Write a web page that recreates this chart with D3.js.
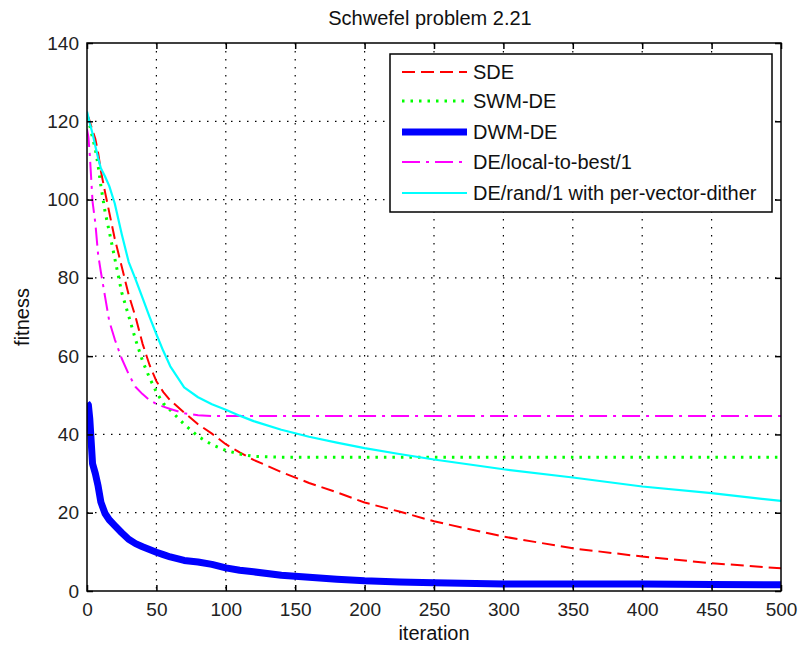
<!DOCTYPE html>
<html>
<head>
<meta charset="utf-8">
<script src="https://cdn.jsdelivr.net/npm/d3@7"></script>
<style>
  html, body { margin: 0; padding: 0; background: #fff; }
  svg { display: block; font-family: "Liberation Sans", Arial, Helvetica, sans-serif; }
</style>
</head>
<body>
<svg id="chart" width="802" height="650"></svg>
<script>
// Iteration grid shared by every series
const iterations = [0, 1, 2, 4, 6, 8, 10, 13, 16, 20, 25, 30, 35, 40, 45, 50, 55, 60, 70, 80, 90,
                    100, 110, 120, 140, 160, 180, 200, 225, 250, 300, 350, 400, 450, 500];

// Best fitness per iteration for each algorithm
const sde = [121.5, 121, 120, 117.6, 115.5, 112, 107.3, 101.9, 96.8, 90, 82.9, 75.7, 70, 63.2, 57.8, 53.6, 50.8, 48.7, 45.6, 42.6, 40.2,
             37.5, 35.4, 33.5, 30.4, 27.6, 25.2, 22.6, 20.3, 17.8, 13.9, 10.9, 8.8, 7.1, 5.8];
const swmde = [121, 120, 118.9, 115.8, 112.9, 108.7, 103.5, 96.9, 91.9, 85, 76.3, 70.3, 64.2, 58.8, 54.5, 50.8, 47.9, 46.2, 42.6, 39.5, 37.4,
               35.9, 35.0, 34.4, 34.2, 34.2, 34.2, 34.2, 34.2, 34.2, 34.2, 34.2, 34.2, 34.2, 34.2];
const dwmde = [48, 47.5, 44, 32.5, 30, 26.8, 22.7, 19.8, 18.2, 16.7, 14.9, 13.2, 12.1, 11.3, 10.6, 9.9, 9.3, 8.7, 7.8, 7.4, 6.8,
               5.9, 5.3, 4.9, 4.0, 3.5, 3.0, 2.6, 2.3, 2.1, 1.8, 1.8, 1.8, 1.65, 1.6];
const localToBest = [118, 116, 111.5, 99.5, 94, 86, 81.5, 75.2, 69, 64.3, 59.4, 55.4, 52.1, 50.3, 48.8, 47.8, 47.1, 46.5, 45.4, 44.9, 44.7,
                     44.7, 44.7, 44.7, 44.7, 44.7, 44.7, 44.7, 44.7, 44.7, 44.7, 44.7, 44.7, 44.7, 44.7];
const randDither = [122.5, 121, 119.5, 116.9, 113.7, 110.6, 108, 105.9, 103.5, 99, 91.2, 84.1, 79.6, 74.9, 70.1, 65.6, 61.3, 57.4, 52.0, 49.5, 47.7,
                    46.3, 44.8, 43.4, 41.2, 39.4, 37.9, 36.5, 35.0, 33.6, 31.1, 29.0, 26.7, 25.0, 23.0];

const seriesNames = ["SDE", "SWM-DE", "DWM-DE", "DE/local-to-best/1", "DE/rand/1 with per-vector-dither"];
const xTicks = [0, 50, 100, 150, 200, 250, 300, 350, 400, 450, 500];
const yTicks = [0, 20, 40, 60, 80, 100, 120, 140];

const series = [
  { name: seriesNames[0], values: sde,         color: "#ff0000", width: 2,   dash: "13 6" },
  { name: seriesNames[1], values: swmde,       color: "#00ff00", width: 3,   dash: "2.5 6" },
  { name: seriesNames[2], values: dwmde,       color: "#0000ff", width: 7,   dash: null },
  { name: seriesNames[3], values: localToBest, color: "#ff00ff", width: 2,   dash: "18 6 3 6" },
  { name: seriesNames[4], values: randDither,  color: "#00ffff", width: 2.2, dash: null }
];

const svg = d3.select("#chart");
const plotL = 87, plotR = 781, plotT = 43, plotB = 591;

const x = d3.scaleLinear().domain([0, 500]).range([plotL, plotR]);
const y = d3.scaleLinear().domain([0, 140]).range([plotB, plotT]);

const fontSize = 19;

// dotted grid
const grid = svg.append("g");
grid.selectAll("line.gx").data(xTicks.slice(1, -1)).join("line")
  .attr("x1", d => x(d)).attr("x2", d => x(d)).attr("y1", plotT).attr("y2", plotB)
  .attr("stroke", "#000").attr("stroke-width", 1.2).attr("stroke-dasharray", "1.5 6.5");
grid.selectAll("line.gy").data(yTicks.slice(1, -1)).join("line")
  .attr("y1", d => y(d)).attr("y2", d => y(d)).attr("x1", plotL).attr("x2", plotR)
  .attr("stroke", "#000").attr("stroke-width", 1.2).attr("stroke-dasharray", "1.5 6.5");

// series lines
const line = d3.line().x((d, i) => x(iterations[i])).y(d => y(d));
svg.append("clipPath").attr("id", "plotclip")
  .append("rect").attr("x", plotL).attr("y", plotT).attr("width", plotR - plotL).attr("height", plotB - plotT);
const plot = svg.append("g").attr("clip-path", "url(#plotclip)");
plot.selectAll("path").data(series).join("path")
  .attr("d", d => line(d.values))
  .attr("fill", "none")
  .attr("stroke", d => d.color)
  .attr("stroke-width", d => d.width)
  .attr("stroke-dasharray", d => d.dash)
  .attr("stroke-linejoin", "round");

// axes with inward ticks on all four sides
const axisStyle = g => {
  g.select(".domain").remove();
  g.selectAll(".tick line").attr("stroke", "#000").attr("stroke-width", 1.5);
  g.selectAll(".tick text").attr("fill", "#222").style("font-size", fontSize + "px");
};
svg.append("g").attr("transform", `translate(0,${plotB})`)
  .call(d3.axisBottom(x).tickValues(xTicks).tickSizeInner(-6).tickSizeOuter(0).tickPadding(12))
  .call(axisStyle);
svg.append("g").attr("transform", `translate(0,${plotT})`)
  .call(d3.axisTop(x).tickValues(xTicks).tickSizeInner(-6).tickSizeOuter(0).tickFormat(""))
  .call(axisStyle);
svg.append("g").attr("transform", `translate(${plotL},0)`)
  .call(d3.axisLeft(y).tickValues(yTicks).tickSizeInner(-6).tickSizeOuter(0).tickPadding(8))
  .call(axisStyle);
svg.append("g").attr("transform", `translate(${plotR},0)`)
  .call(d3.axisRight(y).tickValues(yTicks).tickSizeInner(-6).tickSizeOuter(0).tickFormat(""))
  .call(axisStyle);

// plot frame
svg.append("rect").attr("x", plotL).attr("y", plotT).attr("width", plotR - plotL).attr("height", plotB - plotT)
  .attr("fill", "none").attr("stroke", "#000").attr("stroke-width", 1.5);

// title and axis labels
svg.append("text").attr("x", 430).attr("y", 25).attr("text-anchor", "middle")
  .style("font-size", "20px").attr("fill", "#111").text("Schwefel problem 2.21");
svg.append("text").attr("x", 434).attr("y", 640).attr("text-anchor", "middle")
  .style("font-size", "20px").attr("fill", "#111").text("iteration");
svg.append("text").attr("transform", "translate(29,317) rotate(-90)").attr("text-anchor", "middle")
  .style("font-size", "20px").attr("fill", "#111").text("fitness");

// legend
const lg = svg.append("g");
lg.append("rect").attr("x", 390).attr("y", 54).attr("width", 382).attr("height", 158)
  .attr("fill", "#fff").attr("stroke", "#000").attr("stroke-width", 1.5);
const rowY = [72, 101, 132, 162, 193];
const items = lg.selectAll("g.item").data(series).join("g")
  .attr("transform", (d, i) => `translate(0,${rowY[i]})`);
items.append("line").attr("x1", 402).attr("x2", 467).attr("y1", 0).attr("y2", 0)
  .attr("stroke", d => d.color).attr("stroke-width", d => d.width).attr("stroke-dasharray", d => d.dash);
items.append("text").attr("x", 473).attr("y", 7).style("font-size", "20px").attr("fill", "#111")
  .text(d => d.name);
</script>
</body>
</html>
